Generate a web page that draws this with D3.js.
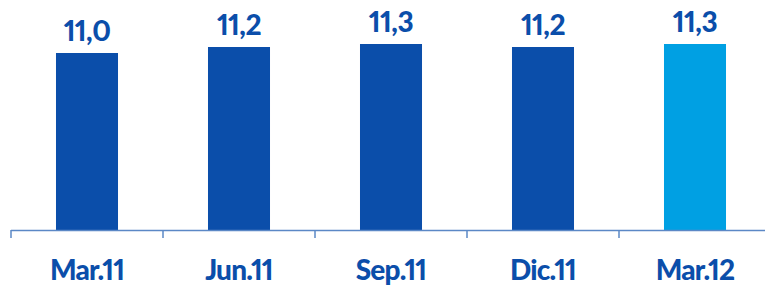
<!DOCTYPE html>
<html><head><meta charset="utf-8">
<script src="https://cdn.jsdelivr.net/npm/d3@7"></script>
<style>body{margin:0;background:#fff}svg{display:block}text{font-feature-settings:"pnum" 1;font-variant-numeric:proportional-nums}</style>
</head><body>
<svg id="c" width="765" height="285"></svg>
<script>
const categories = ["Mar.11","Jun.11","Sep.11","Dic.11","Mar.12"];
const values = [11.0, 11.2, 11.3, 11.2, 11.3];
const valueLabels = ["11,0","11,2","11,3","11,2","11,3"];
const highlight = [false,false,false,false,true];

const svg = d3.select("#c");
const baseY = 230;
const x = d3.scaleBand().domain(categories).range([11, 771]).paddingInner(0.592).paddingOuter(0.296);
const y = d3.scaleLinear().domain([5.1, 11.3]).range([baseY, 44]);
const dark = "#0b4eaa", light = "#00a0e3", axisCol = "#5b88c6";
const font = "Lato, 'Open Sans', sans-serif";

svg.selectAll("rect.bar").data(values).join("rect")
  .attr("x", (d,i)=>x(categories[i]))
  .attr("width", x.bandwidth())
  .attr("y", d=>y(d))
  .attr("height", d=>baseY - y(d))
  .attr("fill", (d,i)=>highlight[i]?light:dark);

svg.selectAll("text.val").data(values).join("text")
  .attr("x", (d,i)=>x(categories[i]) + x.bandwidth()/2)
  .attr("y", d=>y(d) - 12)
  .attr("text-anchor","middle")
  .attr("font-family", font).attr("font-weight", 900).attr("font-size", 28)
  .attr("letter-spacing", -0.5)
  .attr("fill", dark)
  .text((d,i)=>valueLabels[i]);

const axisG = svg.append("g");
axisG.append("line").attr("x1", 11).attr("x2", 765).attr("y1", baseY+0.5).attr("y2", baseY+0.5)
  .attr("stroke", axisCol).attr("stroke-width", 1.5);
const tickPos = categories.map(c => x(c) - x.step()*x.paddingInner()/2);
axisG.selectAll("line.t").data(tickPos).join("line")
  .attr("x1", d=>d).attr("x2", d=>d).attr("y1", baseY).attr("y2", baseY+8)
  .attr("stroke", axisCol).attr("stroke-width", 1.5);

svg.selectAll("text.cat").data(categories).join("text")
  .attr("x", d=>x(d) + x.bandwidth()/2)
  .attr("y", 280)
  .attr("text-anchor","middle")
  .attr("font-family", font).attr("font-weight", 900).attr("font-size", 28)
  .attr("letter-spacing", -0.8)
  .attr("fill", dark)
  .text(d=>d);
</script>
</body></html>
